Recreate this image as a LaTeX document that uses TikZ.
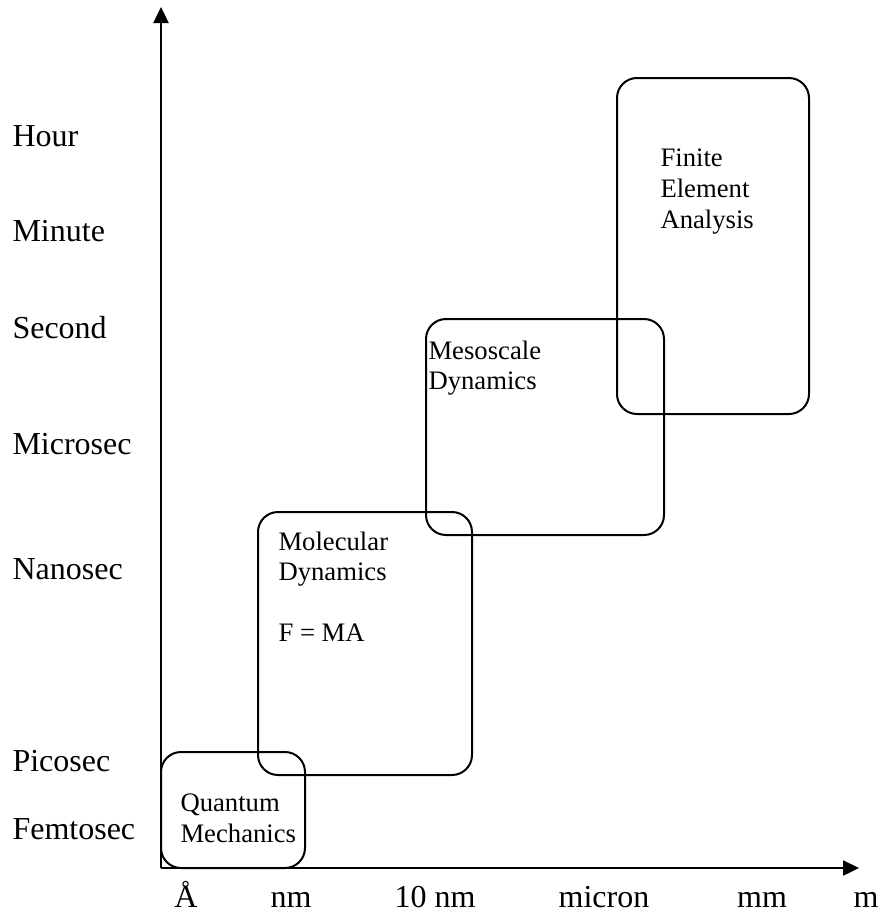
\documentclass[tikz,border=0pt]{standalone}
\usepackage{fontspec}
\setmainfont{Liberation Serif}
\usetikzlibrary{arrows.meta}
\tikzset{
  axis/.style={line width=1pt},
  regionbox/.style={line width=0.75pt,rounded corners=7.5pt},
  scalelabel/.style={font=\fontsize{12}{14}\selectfont,inner sep=0pt},
  boxlabel/.style={font=\fontsize{10}{11.6}\selectfont,align=left,inner sep=0pt,anchor=north west}
}
\begin{document}
\begin{tikzpicture}[x=0.375pt,y=-0.375pt,>={Triangle[length=6pt,width=5.6pt]}]
\useasboundingbox (0,0) rectangle (877,916);
% axes
\coordinate (O) at (161,868);
\coordinate (ytip) at (161,7);
\coordinate (xtip) at (859,868);
\draw[axis,->] (O)--(ytip);
\draw[axis,->] (O)--(xtip);
% time scale
\foreach \name/\y/\txt in {hour/146/Hour, minute/241/Minute, second/338/Second, microsec/454/Microsec,
  nanosec/579/Nanosec, picosec/771/Picosec, femtosec/839/Femtosec}
  \node[scalelabel,anchor=base west] (\name) at (12,\y) {\txt};
% length scale
\foreach \name/\x/\txt in {ang/186/Å, nm/291/nm, tennm/435/10 nm, micron/604/micron, mm/762/mm, m/866/m}
  \node[scalelabel,anchor=base] (\name) at (\x,907) {\txt};
% regions
\draw[regionbox] (161,752) rectangle (305,868);
\draw[regionbox] (258,512) rectangle (472,775);
\draw[regionbox] (426,319) rectangle (664,535);
\draw[regionbox] (617,78) rectangle (809,414);
\node[boxlabel] (qm) at (180,793) {Quantum\\Mechanics};
\node[boxlabel] (md) at (278,531) {Molecular\\Dynamics\\[11pt]F = MA};
\node[boxlabel] (meso) at (428,340) {Mesoscale\\Dynamics};
\node[boxlabel] (fea) at (660,148) {Finite\\Element\\Analysis};
\end{tikzpicture}
\end{document}
